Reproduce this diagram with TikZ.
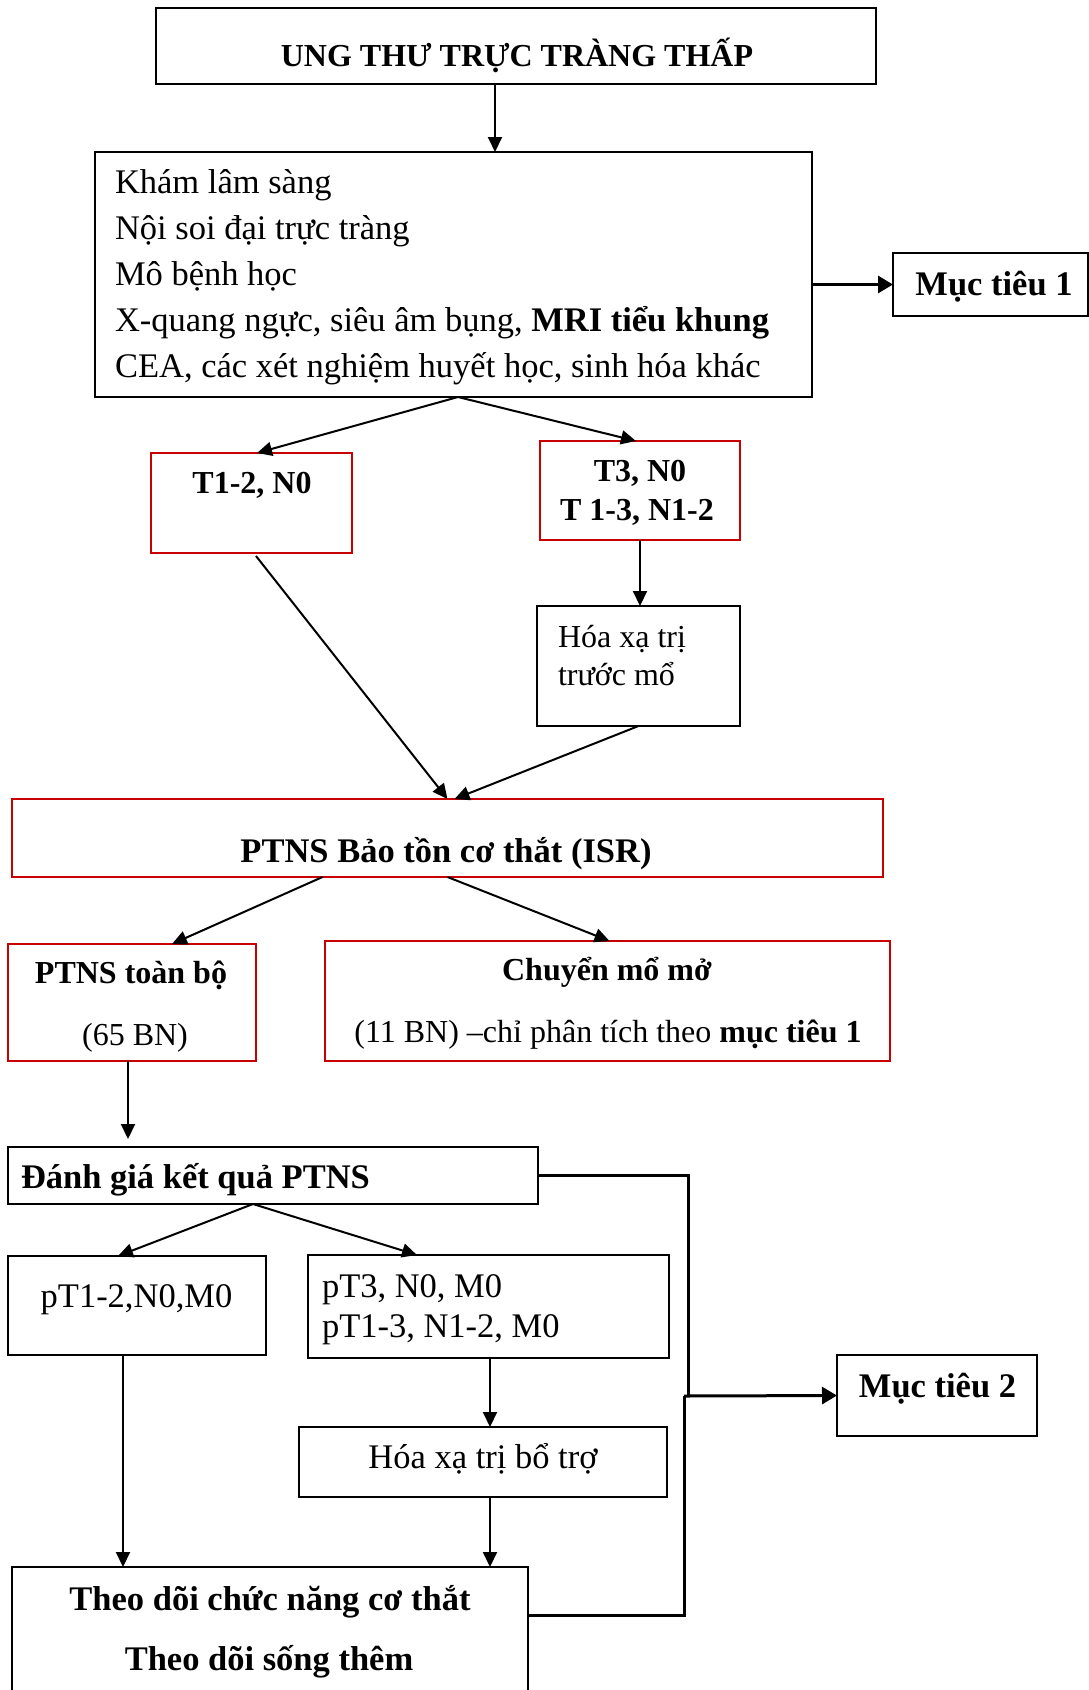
\documentclass[tikz,border=0pt]{standalone}
\usepackage{fontspec}
\setmainfont{Liberation Serif}
\usetikzlibrary{arrows.meta,calc}
\definecolor{rd}{RGB}{200,0,0}
\begin{document}
\begin{tikzpicture}[x=1pt,y=-1pt,
  box/.style={draw=black,line width=2pt,inner sep=0pt,outer sep=0pt,rectangle},
  rbox/.style={box,draw=rd},
  txt/.style={inner sep=0pt,outer sep=0pt,font=\fontsize{34.5}{41}\selectfont},
  btxt/.style={txt,font=\fontsize{34.5}{41}\selectfont\bfseries},
  stxt/.style={inner sep=0pt,outer sep=0pt,font=\fontsize{32}{38}\selectfont},
  sbtxt/.style={stxt,font=\fontsize{32}{38}\selectfont\bfseries},
  conn/.style={line width=2pt},
  arr/.style={conn,-{Triangle[length=15pt,width=14pt]}},
  tconn/.style={line width=3pt},
  tarr/.style={tconn,-{Triangle[length=15pt,width=17pt]}}
]
\clip (0,0) rectangle (1089,1690);
\fill[white] (0,0) rectangle (1089,1690);

% boxes
\node[box,minimum width=720pt,minimum height=76pt] (title) at (516,46) {};
\node[box,minimum width=717pt,minimum height=245pt] (exam) at (453.5,274.5) {};
\node[box,minimum width=195pt,minimum height=63pt] (muc1) at (990.5,284.5) {};
\node[rbox,minimum width=201pt,minimum height=100pt] (t12) at (251.5,503) {};
\node[rbox,minimum width=200pt,minimum height=99pt] (t3) at (640,490.5) {};
\node[box,minimum width=203pt,minimum height=120pt] (hoa1) at (638.5,666) {};
\node[rbox,minimum width=871pt,minimum height=78pt] (isr) at (447.5,838) {};
\node[rbox,minimum width=248pt,minimum height=117pt] (toanbo) at (132,1002.5) {};
\node[rbox,minimum width=565pt,minimum height=120pt] (chuyen) at (607.5,1001) {};
\node[box,minimum width=530pt,minimum height=57pt] (danhgia) at (273,1175.5) {};
\node[box,minimum width=258pt,minimum height=99pt] (pt12) at (137,1305.5) {};
\node[box,minimum width=361pt,minimum height=103pt] (pt3) at (488.5,1306.5) {};
\node[box,minimum width=200pt,minimum height=81pt] (muc2) at (937,1395.5) {};
\node[box,minimum width=368pt,minimum height=70pt] (hoa2) at (483,1462) {};
\node[box,minimum width=516pt,minimum height=153pt] (theodoi) at (270,1643.5) {};

% texts
\node[sbtxt,anchor=base] (ttitle) at (517,66) {UNG THƯ TRỰC TRÀNG THẤP};
\node[txt,anchor=base west] (te1) at (115,193) {Khám lâm sàng};
\node[txt,anchor=base west] (te2) at (115,239) {Nội soi đại trực tràng};
\node[txt,anchor=base west] (te3) at (115,285) {Mô bệnh học};
\node[txt,anchor=base west] (te4) at (115,331) {X-quang ngực, siêu âm bụng, \textbf{MRI tiểu khung}};
\node[txt,anchor=base west] (te5) at (115,377) {CEA, các xét nghiệm huyết học, sinh hóa khác};
\node[btxt,anchor=base] (tm1) at (994,295) {Mục tiêu 1};
\node[sbtxt,anchor=base] (tt12) at (252,493) {T1-2, N0};
\node[sbtxt,anchor=base] (tt3a) at (640,481) {T3, N0};
\node[sbtxt,anchor=base] (tt3b) at (637,520) {T 1-3, N1-2};
\node[stxt,anchor=base west] (th1a) at (558,647) {Hóa xạ trị};
\node[stxt,anchor=base west] (th1b) at (558,685) {trước mổ};
\node[btxt,anchor=base] (tisr) at (446,862) {PTNS Bảo tồn cơ thắt (ISR)};
\node[sbtxt,anchor=base] (ttb1) at (131,983) {PTNS toàn bộ};
\node[stxt,anchor=base] (ttb2) at (135,1045) {(65 BN)};
\node[sbtxt,anchor=base] (tch1) at (607,980) {Chuyển mổ mở};
\node[stxt,anchor=base] (tch2) at (608,1042) {(11 BN) –chỉ phân tích theo \textbf{mục tiêu 1}};
\node[btxt,anchor=base west] (tdg) at (21,1188) {Đánh giá kết quả PTNS};
\node[txt,anchor=base] (tp12) at (136.5,1307) {pT1-2,N0,M0};
\node[txt,anchor=base west] (tp3a) at (322,1297) {pT3, N0, M0};
\node[txt,anchor=base west] (tp3b) at (322,1337) {pT1-3, N1-2, M0};
\node[btxt,anchor=base] (tm2) at (937.5,1397) {Mục tiêu 2};
\node[txt,anchor=base] (th2) at (483,1468) {Hóa xạ trị bổ trợ};
\node[btxt,anchor=base] (ttd1) at (270,1610) {Theo dõi chức năng cơ thắt};
\node[btxt,anchor=base] (ttd2) at (269,1670) {Theo dõi sống thêm};

% connectors
\draw[arr] ([xshift=-21pt]title.south) -- ([xshift=41.5pt]exam.north);
\draw[tarr] (exam.east |- muc1.west) -- (muc1.west);
\draw[arr] ([xshift=4.5pt]exam.south) -- ([xshift=5.5pt]t12.north);
\draw[arr] ([xshift=4.5pt]exam.south) -- ([xshift=-4pt]t3.north);
\draw[arr] (t3.south) -- (t3.south |- hoa1.north);
\draw[arr] ([xshift=4.5pt,yshift=-3pt]t12.south) -- (isr.north);
\draw[arr] (hoa1.south) -- ([xshift=7pt]isr.north);
\draw[arr] ([xshift=-125pt]isr.south) -- ([xshift=40pt]toanbo.north);
\draw[arr] (isr.south) -- ([xshift=2pt]chuyen.north);
\draw[arr,shorten >=8pt] ([xshift=-4pt]toanbo.south) -- ([xshift=-4pt]toanbo.south |- danhgia.north);
\draw[arr] ([xshift=-20pt]danhgia.south) -- ([xshift=-19pt]pt12.north);
\draw[arr] ([xshift=-20pt]danhgia.south) -- ([xshift=-71.5pt]pt3.north);
\draw[arr] ([xshift=-14pt]pt12.south) -- ([xshift=-14pt]pt12.south |- theodoi.north);
\draw[arr] ([xshift=1.5pt]pt3.south) -- ([xshift=1.5pt]pt3.south |- hoa2.north);
\draw[arr] ([xshift=7pt]hoa2.south) -- ([xshift=7pt]hoa2.south |- theodoi.north);

\coordinate (j1) at (688,1396);
\coordinate (j2) at (684,1396);
\coordinate (j3) at (684,1615);
\draw[tconn] (danhgia.east) -| (j1);
\draw[tconn] ([yshift=28.5pt]theodoi.east) -- (j3) -- (j2);
\draw[tarr] (j2) -- (muc2.west);
\end{tikzpicture}
\end{document}
